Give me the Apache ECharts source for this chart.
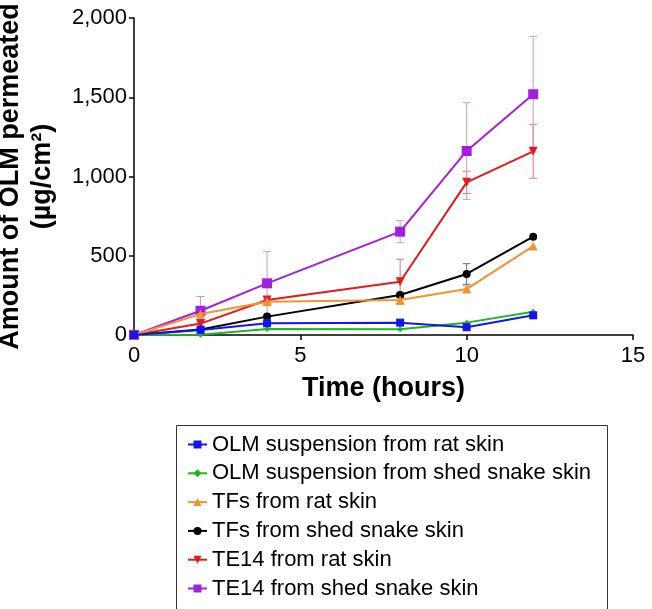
<!DOCTYPE html>
<html>
<head>
<meta charset="utf-8">
<script src="https://cdn.jsdelivr.net/npm/echarts@6/dist/echarts.min.js"></script>
<style>html,body{margin:0;padding:0;background:#fff;}#c{width:652px;height:609px;}</style>
</head>
<body>
<div id="c"></div>
<script>
var times = [0, 2, 4, 8, 10, 12];
var seriesNames = [
  'OLM suspension from rat skin',
  'OLM suspension from shed snake skin',
  'TFs from rat skin',
  'TFs from shed snake skin',
  'TE14 from rat skin',
  'TE14 from shed snake skin'
];
var olmRat   = [0, 32, 74, 78, 49, 124];
var olmSnake = [0, 2, 38, 36, 78, 147];
var tfsRat   = [0, 132, 210, 221, 290, 561];
var tfsSnake = [0, 35, 116, 252, 385, 620];
var te14Rat  = [0, 72, 221, 336, 963, 1159];
var te14Snake= [0, 153, 326, 652, 1161, 1519];
// error (SD) values
var tfsRatErr   = [0, 10, 15, 20, 20, 0];
var tfsSnakeErr = [0, 0, 0, 15, 65, 0];
var te14RatErr  = [0, 15, 20, 142, 70, 170];
var te14SnakeErr= [0, 90, 200, 70, 305, 365];

var xTicks = {min: 0, max: 15, interval: 5};
var yTicks = {min: 0, max: 2000, interval: 500};

var colors = ['#1414f0', '#22b422', '#f39230', '#000000', '#e41b1b', '#a21fe0'];
var symbols = ['rect', 'diamond', 'triangle', 'circle', 'path://M0,0 L10,0 L5,10 Z', 'rect'];
var sizes = [8, 6, 9, 8, 9, 10];
var values = [olmRat, olmSnake, tfsRat, tfsSnake, te14Rat, te14Snake];
var errs = [null, null, tfsRatErr, tfsSnakeErr, te14RatErr, te14SnakeErr];
var errColors = [null, null, '#d0a070', '#707070', '#d07a85', '#c79ad8'];
var zs = [8, 7, 5, 4, 3, 2];

var series = [];
values.forEach(function (v, i) {
  series.push({
    name: seriesNames[i],
    type: 'line',
    data: times.map(function (t, k) { return [t, v[k]]; }),
    symbol: symbols[i],
    symbolSize: sizes[i],
    showAllSymbol: true,
    lineStyle: {color: colors[i], width: 2},
    itemStyle: {color: colors[i], borderWidth: 0},
    z: zs[i] + 10,
    animation: false
  });
});
errs.forEach(function (e, i) {
  if (!e) return;
  var d = [];
  times.forEach(function (t, k) {
    if (e[k] > 0) d.push([t, values[i][k] - e[k], values[i][k] + e[k]]);
  });
  series.push({
    type: 'custom',
    name: seriesNames[i] + ' err',
    data: d,
    z: 5,
    silent: true,
    animation: false,
    encode: {x: 0, y: [1, 2]},
    renderItem: function (params, api) {
      var x = api.value(0);
      var lo = api.coord([x, api.value(1)]);
      var hi = api.coord([x, api.value(2)]);
      var w = 4;
      var st = {stroke: errColors[i], lineWidth: 1};
      return {
        type: 'group',
        children: [
          {type: 'line', shape: {x1: lo[0], y1: lo[1], x2: hi[0], y2: hi[1]}, style: st},
          {type: 'line', shape: {x1: hi[0] - w, y1: hi[1], x2: hi[0] + w, y2: hi[1]}, style: st},
          {type: 'line', shape: {x1: lo[0] - w, y1: lo[1], x2: lo[0] + w, y2: lo[1]}, style: st}
        ]
      };
    }
  });
});

var chart = echarts.init(document.getElementById('c'), null, {renderer: 'canvas'});
chart.setOption({
  backgroundColor: '#fff',
  textStyle: {fontFamily: 'Liberation Sans, Arial, sans-serif'},
  grid: {left: 134, right: 19, top: 18, bottom: 274, containLabel: false, outerBoundsMode: 'none'},
  xAxis: {
    type: 'value', min: xTicks.min, max: xTicks.max, interval: xTicks.interval,
    splitLine: {show: false},
    axisLine: {lineStyle: {color: '#000', width: 1.5}},
    axisTick: {lineStyle: {color: '#000', width: 1.5}, length: 5},
    axisLabel: {color: '#000', fontSize: 22, margin: 10, fontFamily: 'Liberation Sans'},
    name: 'Time (hours)', nameLocation: 'middle', nameGap: 40,
    nameTextStyle: {color: '#000', fontSize: 27, fontWeight: 'bold', fontFamily: 'Liberation Sans'}
  },
  yAxis: {
    type: 'value', min: yTicks.min, max: yTicks.max, interval: yTicks.interval,
    splitLine: {show: false},
    axisLine: {show: true, lineStyle: {color: '#000', width: 1.5}},
    axisTick: {show: true, lineStyle: {color: '#000', width: 1.5}, length: 5},
    axisLabel: {color: '#000', fontSize: 22, margin: 7, fontFamily: 'Liberation Sans',
      formatter: function (v) { return v.toLocaleString('en-US'); }},
    name: 'Amount of OLM permeated\n(µg/cm²)', nameLocation: 'middle', nameGap: 75,
    nameTextStyle: {color: '#000', fontSize: 27, fontWeight: 'bold', lineHeight: 32, fontFamily: 'Liberation Sans'}
  },
  legend: {
    orient: 'vertical', left: 187, top: 433.5, itemGap: 6.8,
    itemWidth: 19, itemHeight: 10, padding: 0,
    data: seriesNames,
    textStyle: {color: '#000', fontSize: 22, lineHeight: 22, fontFamily: 'Liberation Sans'}
  },
  graphic: [{
    type: 'rect', left: 174, top: 423, silent: true,
    shape: {width: 431, height: 184},
    style: {fill: 'none', stroke: '#333', lineWidth: 1}
  }],
  series: series
});
</script>
</body>
</html>
